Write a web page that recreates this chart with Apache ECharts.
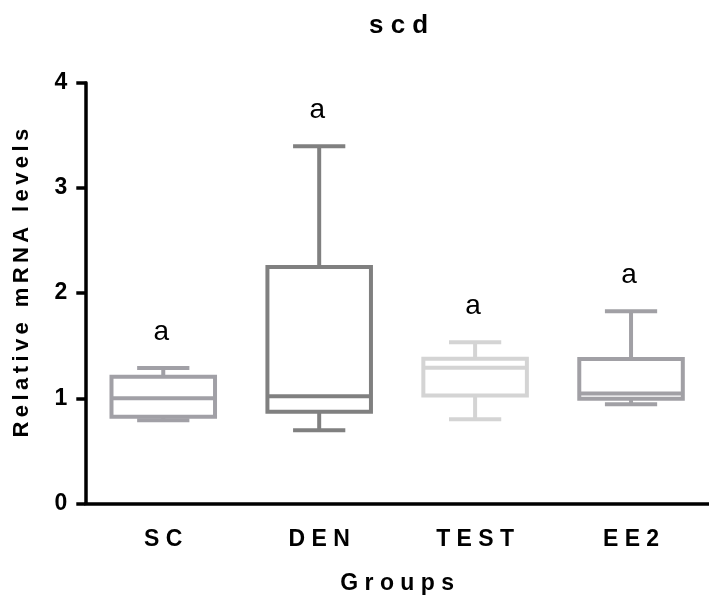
<!DOCTYPE html>
<html>
<head>
<meta charset="utf-8">
<script src="https://cdn.jsdelivr.net/npm/echarts@6/dist/echarts.min.js"></script>
<style>html,body{margin:0;padding:0;background:#fff}#c{width:709px;height:605px}</style>
</head>
<body>
<div id="c"></div>
<script>
// ---- data ----
var categories = ['SC', 'DEN', 'TEST', 'EE2'];
var whiskerMin = [0.791, 0.697, 0.801, 0.944];
var q1Values = [0.825, 0.873, 1.027, 0.996];
var medianValues = [1.0, 1.019, 1.29, 1.045];
var q3Values = [1.205, 2.248, 1.377, 1.374];
var whiskerMax = [1.288, 3.395, 1.532, 1.827];
var letters = ['a', 'a', 'a', 'a'];
var yTicks = [0, 1, 2, 3, 4];
var boxColors = ['#a1a0a6', '#808080', '#d4d4d4', '#a1a0a5'];

var FONT = '"Liberation Sans", Arial, Helvetica, sans-serif';
function spaced(s) {
  return s.split(' ').map(function (w) { return w.split('').join(' '); }).join('   ');
}
function thinSpaced(s) {
  return s.split(' ').map(function (w) { return w.split('').join('\u2009'); }).join('\u2009 \u2009');
}

var seriesData = categories.map(function (c, i) {
  return [i, whiskerMin[i], q1Values[i], medianValues[i], q3Values[i], whiskerMax[i]];
});

var chart = echarts.init(document.getElementById('c'), null, {renderer: 'canvas'});
chart.setOption({
  animation: false,
  backgroundColor: '#ffffff',
  title: {
    text: spaced('scd'),
    left: 364,
    top: 8,
    textStyle: {fontFamily: FONT, fontSize: 26, fontWeight: 'bold', color: '#000'}
  },
  grid: {left: 85.3, top: 82.7, bottom: 101.5, right: -6.3, containLabel: false},
  xAxis: {
    type: 'category',
    data: categories,
    boundaryGap: true,
    name: spaced('Groups'),
    nameLocation: 'middle',
    nameGap: 69,
    nameTextStyle: {fontFamily: FONT, fontSize: 23, fontWeight: 'bold', color: '#000'},
    axisLine: {lineStyle: {color: '#000', width: 3.5}},
    axisTick: {alignWithLabel: true, length: 10, lineStyle: {color: '#000', width: 3.5}},
    axisLabel: {
      margin: 25,
      fontFamily: FONT, fontSize: 23, fontWeight: 'bold', color: '#000',
      formatter: function (v) { return spaced(v); }
    },
    splitLine: {show: false}
  },
  yAxis: {
    type: 'value',
    min: yTicks[0],
    max: yTicks[yTicks.length - 1],
    interval: 1,
    name: thinSpaced('Relative mRNA levels'),
    nameLocation: 'middle',
    nameGap: 52,
    nameRotate: 90,
    nameTextStyle: {fontFamily: FONT, fontSize: 22, fontWeight: 'bold', color: '#000', padding: [0, 0, 0, 20]},
    axisLine: {show: true, lineStyle: {color: '#000', width: 3.5}},
    axisTick: {show: true, length: 9, lineStyle: {color: '#000', width: 3.5}},
    axisLabel: {margin: 18, fontFamily: FONT, fontSize: 23, fontWeight: 'bold', color: '#000'},
    splitLine: {show: false}
  },
  series: [{
    type: 'custom',
    data: seriesData,
    encode: {x: 0, y: [1, 2, 3, 4, 5]},
    clip: false,
    renderItem: function (params, api) {
      var i = params.dataIndex;
      var x = api.value(0);
      var pMin = api.coord([x, api.value(1)]);
      var pQ1 = api.coord([x, api.value(2)]);
      var pMed = api.coord([x, api.value(3)]);
      var pQ3 = api.coord([x, api.value(4)]);
      var pMax = api.coord([x, api.value(5)]);
      var cw = api.size([1, 0])[0];
      var bw = cw * 0.664;
      var capW = cw * 0.335;
      var cx = pMed[0];
      var color = boxColors[i];
      var ls = {stroke: color, lineWidth: 4, fill: null};
      return {
        type: 'group',
        children: [
          {type: 'line', shape: {x1: cx, y1: pQ3[1], x2: cx, y2: pMax[1]}, style: ls},
          {type: 'line', shape: {x1: cx, y1: pQ1[1], x2: cx, y2: pMin[1]}, style: ls},
          {type: 'line', shape: {x1: cx - capW / 2, y1: pMax[1], x2: cx + capW / 2, y2: pMax[1]}, style: ls},
          {type: 'line', shape: {x1: cx - capW / 2, y1: pMin[1], x2: cx + capW / 2, y2: pMin[1]}, style: ls},
          {type: 'rect', shape: {x: cx - bw / 2, y: pQ3[1], width: bw, height: pQ1[1] - pQ3[1]},
            style: {stroke: color, lineWidth: 4, fill: '#fff'}},
          {type: 'line', shape: {x1: cx - bw / 2, y1: pMed[1], x2: cx + bw / 2, y2: pMed[1]}, style: ls},
          {type: 'text', x: cx - 2, y: pMax[1] - 36,
            style: {text: letters[i], fill: '#000', font: '28px ' + FONT, align: 'center', verticalAlign: 'middle'}}
        ]
      };
    }
  }]
});
</script>
</body>
</html>
